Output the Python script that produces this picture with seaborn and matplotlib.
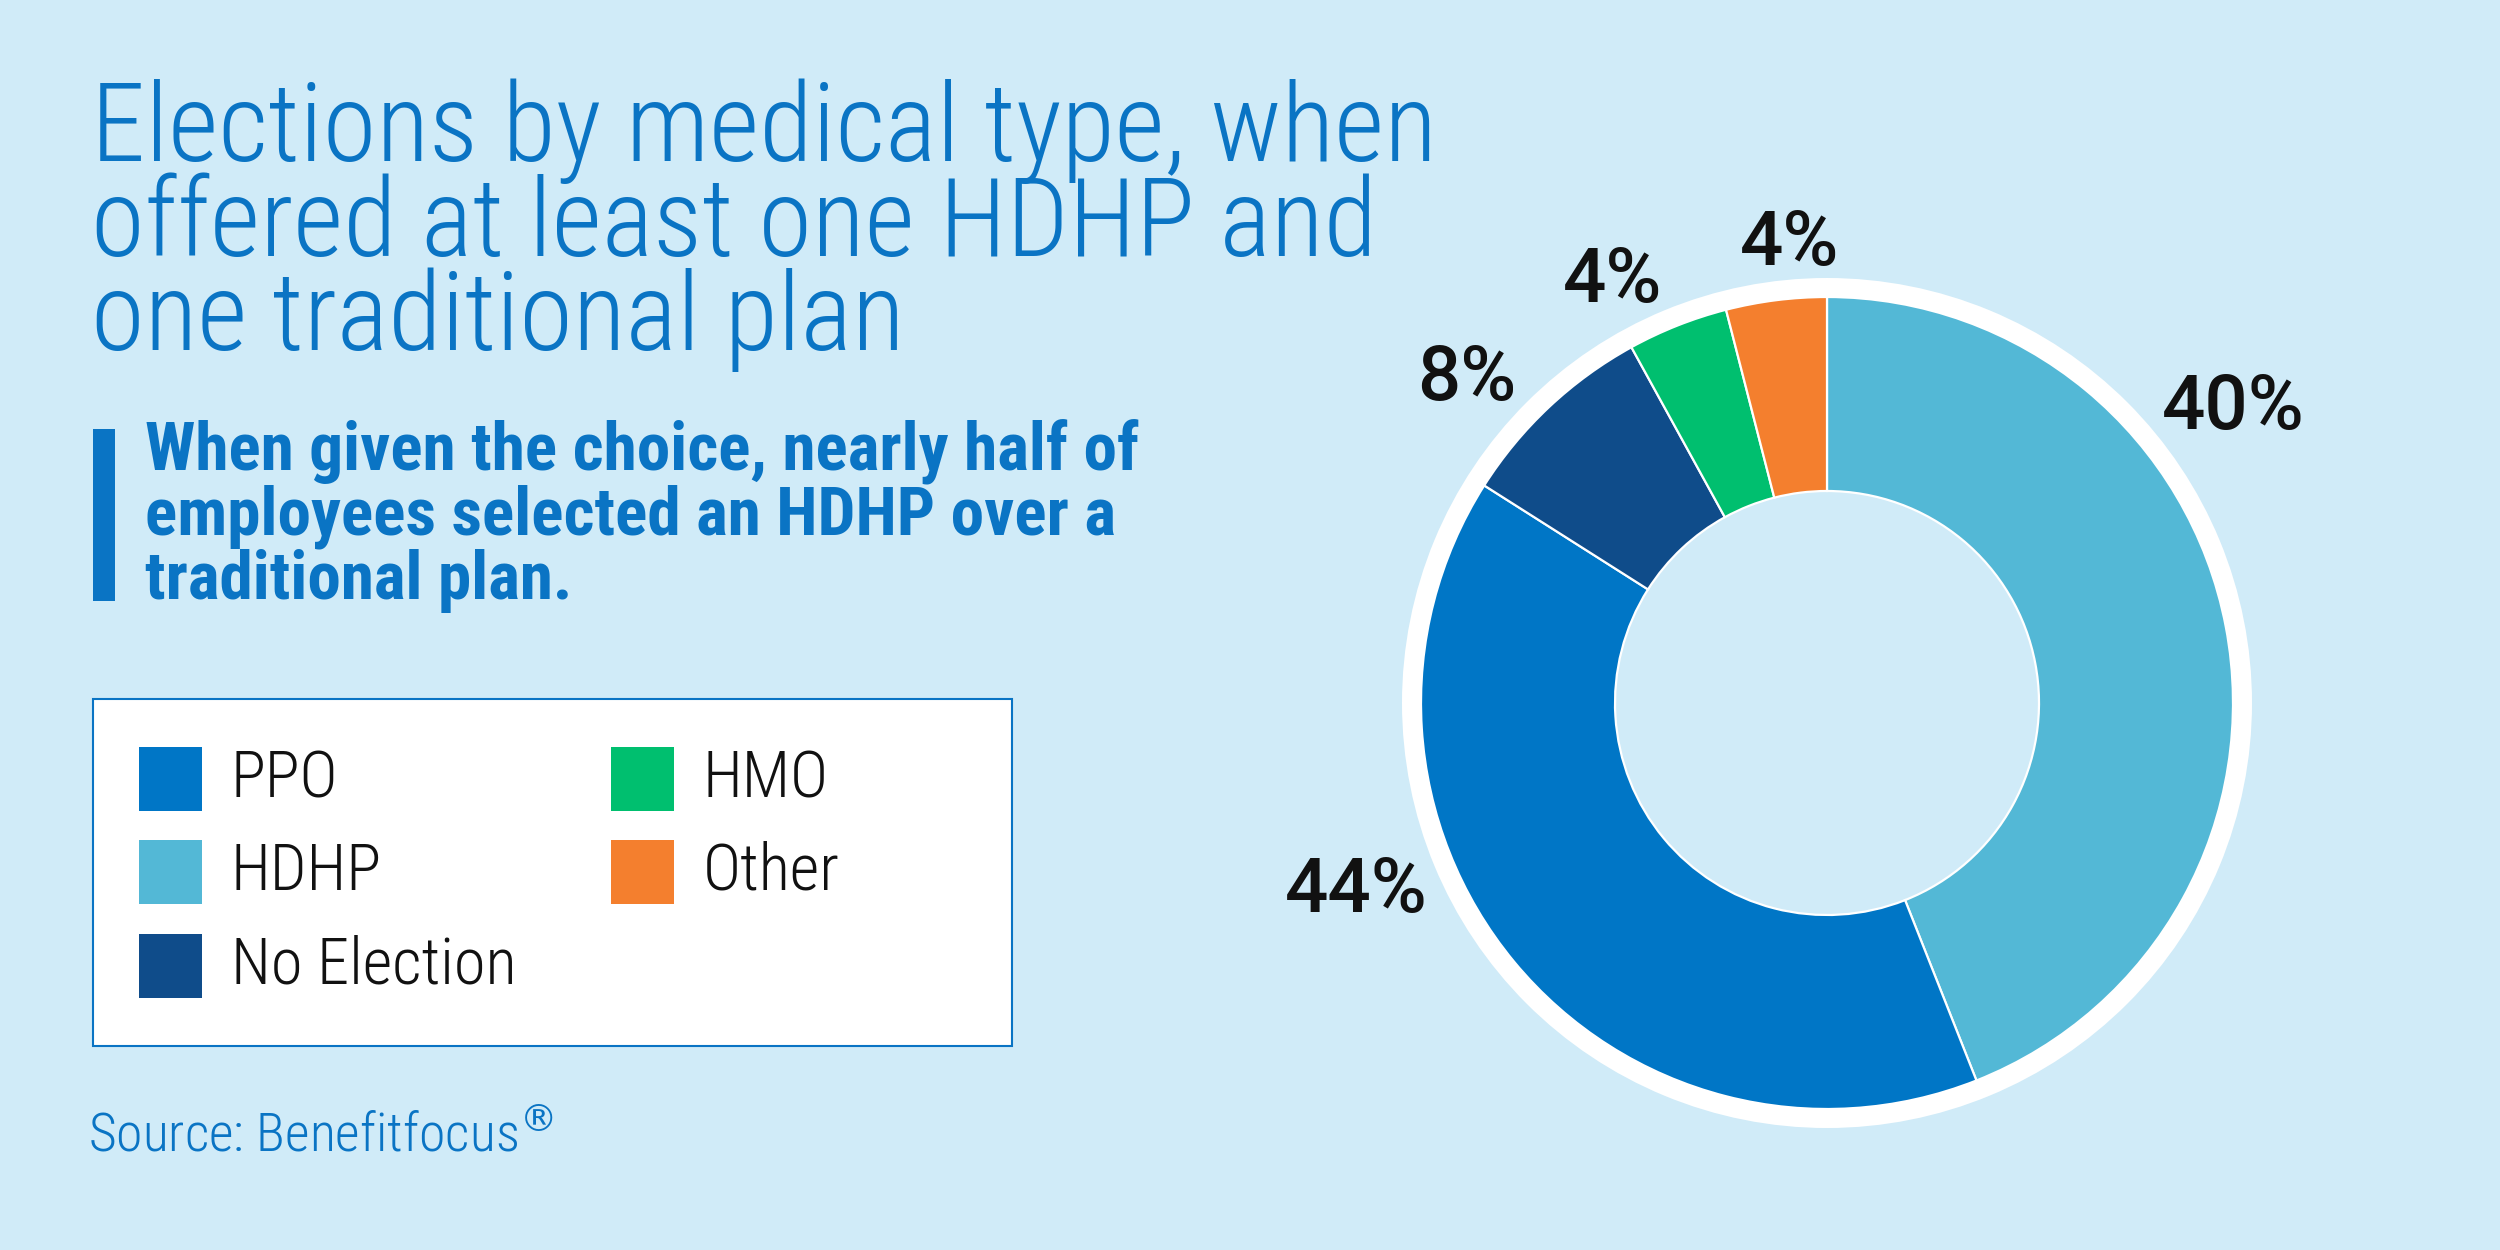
import matplotlib
matplotlib.use("Agg")
import matplotlib.pyplot as plt
from matplotlib import font_manager as fm
from matplotlib.patches import Rectangle, Wedge
import seaborn as sns

# ---------------- data ----------------
categories = ["PPO", "HDHP", "No Election", "HMO", "Other"]          # legend order
pie_order = ["HDHP", "PPO", "No Election", "HMO", "Other"]          # clockwise from 12 o'clock
pie_shares = [44, 40, 8, 4, 4]                                      # wedge sizes as drawn
pie_labels = ["40%", "44%", "8%", "4%", "4%"]                       # printed labels
palette = ["#0076C6", "#53B8D6", "#0F4C8A", "#00BF6F", "#F47F2E"]   # PPO, HDHP, No Election, HMO, Other

title_lines = ["Elections by medical type, when",
               "offered at least one HDHP and",
               "one traditional plan"]
subtitle_lines = ["When given the choice, nearly half of",
                  "employees selected an HDHP over a",
                  "traditional plan."]
source_text = r"Source: Benefitfocus$^{\circledR}$"

# ---------------- style ----------------
BG = "#D0EBF8"
BLUE = "#0A74C4"
sns.set_theme(style="white")
names = {f.name for f in fm.fontManager.ttflist}


def pick(cands):
    for c in cands:
        if c in names:
            return c
    return "DejaVu Sans"


COND = pick(["Roboto Condensed", "Liberation Sans Narrow", "Roboto", "Lato"])
LABF = pick(["Roboto", "Lato", "Open Sans", "DejaVu Sans"])
plt.rcParams["font.family"] = [COND, "DejaVu Sans"]
plt.rcParams["mathtext.fontset"] = "dejavusans"

W, H = 2500, 1250
fig = plt.figure(figsize=(25, 12.5), dpi=100, facecolor=BG)
renderer = fig.canvas.get_renderer()


def fx(x):
    return x / W


def fy(y):
    return 1 - y / H


def fit(t, target):
    w = t.get_window_extent(renderer).width
    t.set_fontsize(t.get_fontsize() * target / w)


def set_baseline_step(t, step):
    # matplotlib: baseline step = (h - d) * linespacing + d  (metrics of "lp")
    _, h, d = renderer.get_text_width_height_descent("lp", t.get_fontproperties(), ismath=False)
    t.set_linespacing((step - d) / (h - d))


# ---------------- title (anchored at last line's baseline) ----------------
title = fig.text(fx(91), fy(350), "\n".join(title_lines), color=BLUE, fontsize=60,
                 weight="light", family=[COND, "DejaVu Sans"], va="baseline", ha="left")
fit(title, 1347)
set_baseline_step(title, 94)

# ---------------- subtitle ----------------
fig.patches.append(Rectangle((fx(93), fy(601)), (115 - 93) / W, (601 - 429) / H,
                             transform=fig.transFigure, facecolor=BLUE, edgecolor="none"))
sub = fig.text(fx(145), fy(599), "\n".join(subtitle_lines), color=BLUE, fontsize=40,
               weight="bold", family=[COND, "DejaVu Sans"], va="baseline", ha="left")
fit(sub, 993)
set_baseline_step(sub, 64.5)

# ---------------- legend (manual box) ----------------
fig.patches.append(Rectangle((fx(93), fy(1046)), (1012 - 93) / W, (1046 - 699) / H,
                             transform=fig.transFigure, facecolor="white",
                             edgecolor=BLUE, linewidth=1.5))
col_x = [139, 611]
row_top = [747, 840, 934]
lts = []
for i, (cat, col) in enumerate(zip(categories, palette)):
    c, r = divmod(i, 3)
    x0, y0 = col_x[c], row_top[r]
    fig.patches.append(Rectangle((fx(x0), fy(y0 + 64)), 63 / W, 64 / H,
                                 transform=fig.transFigure, facecolor=col, edgecolor="none"))
    lts.append(fig.text(fx(x0 + 92), fy(y0 + 50), cat, color="#111111", fontsize=42,
                        weight="light", family=[COND, "DejaVu Sans"],
                        va="baseline", ha="left"))
fit(lts[2], 286)
for t in lts:
    t.set_fontsize(lts[2].get_fontsize())

# ---------------- source ----------------
src = fig.text(fx(88), fy(1152), source_text, color=BLUE, fontsize=36, weight="light",
               family=[COND, "DejaVu Sans"], va="baseline", ha="left")
fit(src, 466)

# ---------------- donut ----------------
CX, CY, R_COL, R_RING, R_IN = 1827, 703, 406, 425, 212
half = 450
ax = fig.add_axes([fx(CX - half), fy(CY + half), 2 * half / W, 2 * half / H])
ax.set_facecolor("none")
L = half / R_COL
pie_colors = [palette[categories.index(c)] for c in pie_order]
ax.add_patch(Wedge((0, 0), R_RING / R_COL, 0, 360, width=(R_RING - R_COL) / R_COL,
                   facecolor="white", edgecolor="none", zorder=0))
ax.pie(pie_shares, colors=pie_colors, startangle=90, counterclock=False, radius=1,
       wedgeprops=dict(width=1 - R_IN / R_COL, edgecolor="white", linewidth=1.6))
ax.set_xlim(-L, L)
ax.set_ylim(-L, L)
ax.set_aspect("equal")
ax.axis("off")

# percentage labels (left x, baseline y in pixels)
label_pos = {"HDHP": (2162, 429), "PPO": (1285, 912), "No Election": (1417, 400),
             "HMO": (1563, 302), "Other": (1740, 265)}
pts = []
for cat, txt in zip(pie_order, pie_labels):
    x, y = label_pos[cat]
    pts.append(fig.text(fx(x), fy(y), txt, color="#111111", fontsize=46, weight="medium",
                        family=[LABF, "DejaVu Sans"], va="baseline", ha="left"))
fit(pts[0], 143)
for t in pts[1:]:
    t.set_fontsize(pts[0].get_fontsize())

fig.savefig("out.png", dpi=100, facecolor=BG)
